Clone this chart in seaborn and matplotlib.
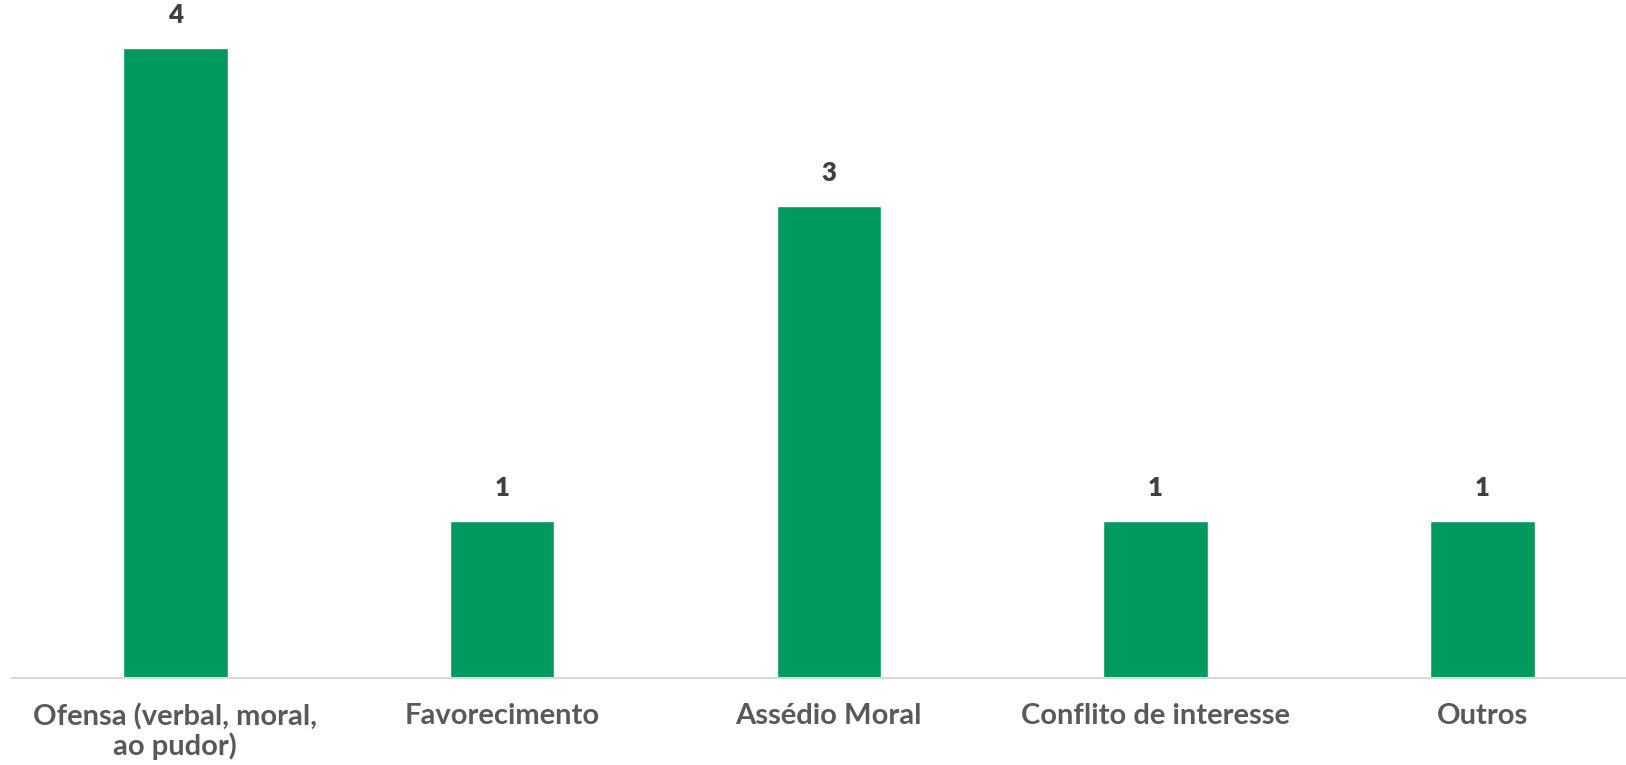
import matplotlib
matplotlib.use("Agg")
import matplotlib.pyplot as plt
import seaborn as sns
import pandas as pd

categories = ["Ofensa (verbal, moral,\nao pudor)", "Favorecimento", "Assédio Moral",
              "Conflito de interesse", "Outros"]
values = [4, 1, 3, 1, 1]

sns.set_theme(style="white")
plt.rcParams['font.family'] = ['Lato', 'DejaVu Sans']

df = pd.DataFrame({"cat": categories, "val": values})

fig = plt.figure(figsize=(16.26, 7.65), dpi=100)
W, H = 1626, 765
left, right = 12, 1626
bottom_px, top_px = 678, 0
ax = fig.add_axes([left / W, 1 - bottom_px / H, (right - left) / W, (bottom_px - top_px) / H])

sns.barplot(data=df, x="cat", y="val", color="#009A5E", width=0.32, saturation=1, ax=ax)

ax.set_xlim(-0.5, 4.44)
ax.set_ylim(0, 678 / 157.5)
ax.set_xlabel("")
ax.set_ylabel("")
ax.set_yticks([])
for s in ["top", "right", "left"]:
    ax.spines[s].set_visible(False)
ax.spines["bottom"].set_color("#D9D9D9")
ax.spines["bottom"].set_linewidth(1.5)
ax.tick_params(axis="x", length=0, pad=18)
for lbl in ax.get_xticklabels():
    lbl.set_fontsize(21)
    lbl.set_fontweight("bold")
    lbl.set_color("#595959")
    lbl.set_linespacing(1.1)
    lbl.set_va("top")

for c in ax.containers:
    ax.bar_label(c, labels=[str(v) for v in values], padding=15, fontsize=18.5,
                 fontweight="heavy", color="#404040")

fig.savefig("out.png", dpi=100)
